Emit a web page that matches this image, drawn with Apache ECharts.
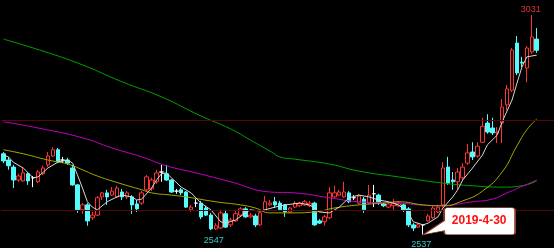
<!DOCTYPE html>
<html>
<head>
<meta charset="utf-8">
<script src="https://cdn.jsdelivr.net/npm/echarts/dist/echarts.min.js"></script>
<style>
html,body{margin:0;padding:0;background:#000;}
#chart{width:554px;height:248px;}
</style>
</head>
<body>
<div id="chart"></div>
<script>
// ---- data ----
const openPrices = [
  2719,2705,2689,2660,2658,2674,2665,2656,2674,2694,
  2714,2728,2705,2705,2687,2649,2593,2604,2575,2581,
  2622,2631,2626,2622,2633,2622,2622,2606,2608,2638,
  2640,2656,2678,2674,2660,2635,2638,2633,2593,2608,
  2608,2597,2581,2550,2552,2584,2559,2568,2581,2595,
  2577,2579,2559,2593,2604,2611,2608,2604,2588,2599,
  2602,2604,2602,2608,2568,2566,2575,2622,2626,2622,
  2631,2620,2608,2617,2608,2629,2626,2606,2599,2602,
  2602,2604,2595,2559,2554,2559,2568,2575,2588,2604,
  2689,2660,2656,2665,2698,2723,2714,2745,2788,2777,
  2766,2788,2829,2862,2968,2925,2912,2948,2977
];
const closePrices = [
  2703,2692,2660,2669,2676,2658,2665,2678,2687,2714,
  2728,2701,2705,2698,2649,2593,2604,2568,2581,2620,
  2631,2622,2635,2642,2622,2631,2604,2595,2631,2667,
  2660,2676,2678,2660,2633,2635,2631,2599,2599,2608,
  2577,2581,2550,2557,2586,2554,2570,2584,2595,2577,
  2581,2559,2586,2611,2608,2604,2593,2588,2597,2608,
  2608,2611,2608,2559,2563,2577,2631,2631,2633,2633,
  2611,2620,2624,2593,2626,2629,2608,2602,2606,2608,
  2608,2593,2559,2552,2559,2559,2579,2597,2599,2687,
  2653,2656,2678,2689,2721,2712,2736,2781,2768,2766,
  2768,2824,2865,2952,2901,2923,2957,2982,2952
];
const lowPrices = [
  2698,2683,2642,2656,2656,2649,2644,2653,2671,2689,
  2712,2698,2698,2694,2647,2586,2584,2557,2570,2579,
  2615,2604,2624,2620,2615,2617,2584,2588,2604,2633,
  2635,2651,2656,2658,2631,2629,2626,2597,2588,2599,
  2572,2579,2547,2548,2550,2552,2554,2566,2579,2575,
  2575,2554,2557,2590,2602,2597,2590,2577,2586,2597,
  2599,2602,2599,2557,2561,2557,2572,2620,2624,2620,
  2608,2615,2606,2586,2606,2599,2604,2599,2597,2593,
  2599,2588,2554,2545,2552,2537,2566,2572,2586,2599,
  2649,2638,2638,2660,2694,2705,2710,2743,2764,2761,
  2743,2743,2817,2858,2896,2914,2880,2944,2946
];
const highPrices = [
  2723,2712,2694,2674,2687,2678,2669,2683,2692,2723,
  2734,2732,2712,2710,2694,2651,2608,2608,2588,2624,
  2633,2638,2644,2647,2640,2635,2626,2615,2635,2671,
  2665,2683,2694,2694,2662,2640,2642,2635,2604,2617,
  2613,2602,2586,2563,2593,2593,2575,2593,2599,2599,
  2586,2584,2588,2624,2615,2622,2613,2606,2599,2613,
  2611,2615,2613,2611,2572,2581,2644,2647,2638,2656,
  2635,2626,2629,2622,2649,2649,2629,2608,2610,2617,
  2613,2608,2599,2563,2563,2561,2584,2602,2604,2700,
  2712,2678,2687,2698,2741,2745,2745,2800,2808,2800,
  2779,2842,2874,2957,2984,2937,2961,3031,3002
];
// moving-average lines, read as [candle index, value]
const ma5Line = [[0,2716],[1,2712],[2,2700],[4,2687],[6,2665],[7,2667],[9,2687],[11,2700],[13,2705],[14,2698],[15,2671],[16,2642],[17,2611],[18,2599],[19,2593],[21,2611],[23,2622],[24,2626],[26,2622],[27,2615],[28,2617],[30,2642],[31,2660],[32,2674],[33,2676],[34,2665],[36,2644],[38,2631],[40,2608],[42,2593],[44,2566],[45,2563],[47,2570],[49,2586],[50,2593],[52,2590],[55,2599],[57,2604],[60,2608],[62,2604],[64,2588],[66,2586],[68,2599],[70,2620],[72,2626],[74,2622],[76,2615],[78,2611],[80,2604],[81,2595],[82,2586],[83,2566],[85,2559],[86,2563],[88,2577],[89,2597],[91,2622],[92,2638],[93,2660],[95,2687],[97,2716],[98,2739],[100,2761],[101,2791],[103,2840],[104,2878],[105,2914],[106,2937],[108,2941]];
const ma10Line = [[0,2728],[4,2719],[9,2705],[13,2696],[16,2683],[19,2669],[24,2651],[28,2638],[30,2631],[34,2626],[37,2622],[43,2611],[48,2604],[51,2597],[54,2586],[58,2586],[63,2588],[67,2597],[72,2604],[77,2608],[80,2611],[85,2604],[89,2602],[93,2613],[97,2635],[101,2678],[104,2737],[106,2773],[108,2797]];
const ma20Line = [[0,2791],[7,2777],[16,2755],[22,2732],[28,2712],[33,2692],[39,2676],[46,2656],[54,2633],[59,2631],[66,2620],[72,2611],[80,2608],[88,2602],[95,2611],[99,2617],[102,2631],[108,2660]];
const ma60Line = [[0,2977],[8,2950],[16,2919],[24,2881],[32,2847],[40,2804],[46,2775],[50,2750],[54,2725],[56,2712],[59,2707],[66,2696],[72,2680],[80,2667],[89,2653],[95,2647],[101,2644],[105,2647],[108,2658]];
const levelLines = [2795, 2592.5];
const calloutDate = '2019-4-30';
const paddingSlots = 3;
const categories = Array.from({length: openPrices.length + paddingSlots}, (_, i) => 'D' + (i + 1));

// ---- build ----
const candleData = openPrices.map((o, i) => [o, closePrices[i], lowPrices[i], highPrices[i]]);
const hiIdx = highPrices.indexOf(Math.max(...highPrices));
const loIdx = lowPrices.indexOf(Math.min(...lowPrices));
const lo2Idx = lowPrices.indexOf(2547);

const chart = echarts.init(document.getElementById('chart'), null, {renderer: 'canvas'});
const numLabel = (color, pos, dist, off) => ({
  show: true, position: pos, distance: dist, offset: off || [0, 0],
  color: color, fontSize: 9, fontFamily: 'Liberation Sans Narrow, Liberation Sans, sans-serif',
  formatter: p => String(p.value)
});
const lineSeries = (name, data, color, z, smooth) => ({
  name, type: 'line', data, showSymbol: false, symbol: 'none', smooth: smooth,
  lineStyle: {color, width: 1}, z, silent: true
});

chart.setOption({
  animation: false,
  backgroundColor: '#000000',
  grid: {left: 1, right: 0, top: 0, bottom: 0, containLabel: false},
  xAxis: {type: 'category', data: categories, show: false, boundaryGap: true},
  yAxis: {type: 'value', min: 2507, max: 3065, show: false, scale: true},
  series: [
    {
      name: 'K', type: 'candlestick', data: candleData, barWidth: 4, z: 2,
      itemStyle: {
        color: '#000000', color0: '#54fcfc',
        borderColor: '#ff3232', borderColor0: '#54fcfc', borderColorDoji: '#ffffff',
        borderWidth: 1
      },
      markLine: {
        silent: true, symbol: ['none', 'none'], label: {show: false},
        lineStyle: {color: '#520808', width: 1, type: 'solid'},
        data: levelLines.map(v => ({yAxis: v}))
      },
      markPoint: {
        z: 10,
        data: [
          {coord: [categories[hiIdx], highPrices[hiIdx]], value: highPrices[hiIdx],
           symbol: 'circle', symbolSize: 1, itemStyle: {color: 'rgba(0,0,0,0)'},
           label: numLabel('#e03030', 'top', 1, [-1, 0])},
          {coord: [categories[lo2Idx], lowPrices[lo2Idx]], value: lowPrices[lo2Idx],
           symbol: 'circle', symbolSize: 1, itemStyle: {color: 'rgba(0,0,0,0)'},
           label: numLabel('#3cc8c8', 'bottom', 5, [3, 0])},
          {coord: [categories[loIdx], lowPrices[loIdx]], value: lowPrices[loIdx],
           symbol: 'circle', symbolSize: 1, itemStyle: {color: 'rgba(0,0,0,0)'},
           label: numLabel('#3cc8c8', 'bottom', 5, [-2, 0])},
          {coord: [categories[loIdx], lowPrices[loIdx]], value: calloutDate,
           symbol: 'path://M0,27L21,13L21,3Q21,0,24,0L89,0Q92,0,92,3L92,24Q92,27,89,27L24,27Q21,27,21,24L21,23Z',
           symbolSize: [92, 27], symbolKeepAspect: false, symbolOffset: [46, -13.5],
           itemStyle: {color: '#ffffff', borderColor: '#8c3c28', borderWidth: 1},
           label: {show: true, position: 'inside', offset: [10, 0], color: '#ff1010',
             fontSize: 12, fontWeight: 'bold', fontFamily: 'Liberation Sans, sans-serif',
             formatter: () => calloutDate}}
        ]
      }
    },
    lineSeries('MA60', ma60Line, '#00a000', 3, true),
    lineSeries('MA20', ma20Line, '#c000c0', 3, true),
    lineSeries('MA10', ma10Line, '#a8a800', 3, true),
    lineSeries('MA5', ma5Line, '#d8d8d8', 4, false)
  ]
});
</script>
</body>
</html>
